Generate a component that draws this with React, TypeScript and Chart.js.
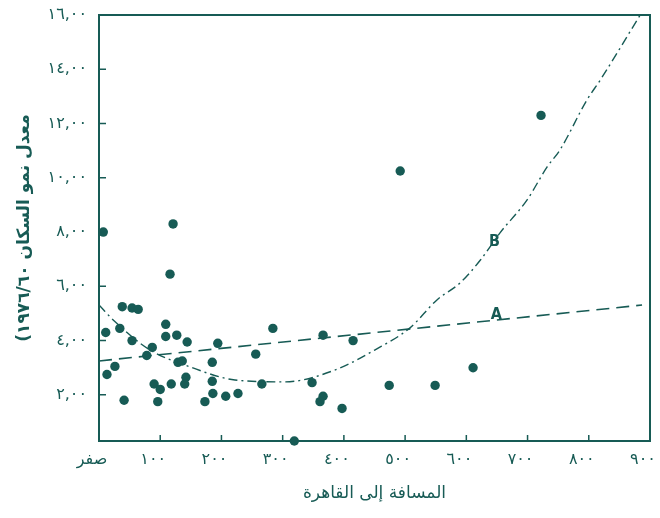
import React, { useEffect, useRef } from "react";
import { Chart, registerables } from "chart.js";

Chart.register(...registerables);

// Axis ticks
const xTickValues = [0, 100, 200, 300, 400, 500, 600, 700, 800, 900];
const xTickLabels = ["صفر", "١٠٠", "٢٠٠", "٣٠٠", "٤٠٠", "٥٠٠", "٦٠٠", "٧٠٠", "٨٠٠", "٩٠٠"];
const yTickValues = [2, 4, 6, 8, 10, 12, 14, 16];
const yTickLabels = ["٢,٠٠", "٤,٠٠", "٦,٠٠", "٨,٠٠", "١٠,٠٠", "١٢,٠٠", "١٤,٠٠", "١٦,٠٠"];

const xTitle = "المسافة إلى القاهرة";
const yTitle = "(معدل نمو السكان ١٩٧٦/٦٠";

// Towns: distance to Cairo (km) and population growth rate
const distance = [
  7, 121, 116, 38, 54, 64, 11, 34, 54, 109, 109, 127, 144, 87, 78, 194, 185, 284, 256, 366,
  415, 13, 26, 41, 90, 100, 118, 96, 129, 136, 142, 140, 185, 186, 173, 207, 227, 266, 348,
  366, 361, 397, 319, 474, 549, 611, 492, 722,
];
const growth = [
  8.0, 8.3, 6.45, 5.25, 5.2, 5.15, 4.3, 4.45, 4.0, 4.6, 4.15, 4.2, 3.95, 3.75, 3.45, 3.9, 3.2,
  4.45, 3.5, 4.2, 4.0, 2.75, 3.05, 1.8, 2.4, 2.2, 2.4, 1.75, 3.2, 3.25, 2.65, 2.4, 2.5, 2.05,
  1.75, 1.95, 2.05, 2.4, 2.45, 1.95, 1.75, 1.5, 0.3, 2.35, 2.35, 3.0, 10.25, 12.3,
];

// Trend A (linear)
const lineADistance = [0, 887];
const lineAGrowth = [3.25, 5.31];

// Trend B (curvilinear)
const lineBDistance = [0, 25, 83, 149, 222, 304, 386, 451, 508, 552, 590, 623, 655, 699, 732, 753, 797, 819, 884];
const lineBGrowth = [5.31, 4.72, 3.66, 3.03, 2.55, 2.48, 2.92, 3.66, 4.47, 5.5, 6.13, 6.97, 7.97, 9.18, 10.4, 11.03, 12.87, 13.61, 16.0];

// Curve tags
const curveTagText = ["A", "B"];
const curveTagDistance = [649, 646];
const curveTagGrowth = [4.95, 7.64];

const INK = "#175b55";
const ARABIC_FONT = "'DejaVu Sans', sans-serif";

const framePlugin = {
  id: "frameAndMarks",
  afterDraw(chart: any) {
    const { ctx, chartArea } = chart;
    const xs = chart.scales.x;
    const ys = chart.scales.y;
    ctx.save();
    ctx.strokeStyle = INK;
    ctx.lineWidth = 2;
    ctx.strokeRect(chartArea.left, chartArea.top, chartArea.right - chartArea.left, chartArea.bottom - chartArea.top);
    ctx.lineWidth = 1.5;
    ctx.beginPath();
    xTickValues.forEach((v) => {
      if (v === 0 || v === 900) return;
      const px = xs.getPixelForValue(v);
      ctx.moveTo(px, chartArea.bottom);
      ctx.lineTo(px, chartArea.bottom - 6);
    });
    yTickValues.forEach((v) => {
      if (v === 16) return;
      const py = ys.getPixelForValue(v);
      ctx.moveTo(chartArea.left, py);
      ctx.lineTo(chartArea.left + 7, py);
    });
    ctx.stroke();

    ctx.fillStyle = INK;
    ctx.font = "bold 16px 'DejaVu Sans Condensed', 'DejaVu Sans', sans-serif";
    ctx.textAlign = "center";
    ctx.textBaseline = "middle";
    curveTagText.forEach((t, i) => {
      const px = xs.getPixelForValue(curveTagDistance[i]);
      const py = ys.getPixelForValue(curveTagGrowth[i]);
      ctx.fillText(t, px, py);
    });
    ctx.restore();
  },
};

const whiteBg = {
  id: "whiteBg",
  beforeDraw(chart: any) {
    const { ctx, width, height } = chart;
    ctx.save();
    ctx.fillStyle = "#ffffff";
    ctx.fillRect(0, 0, width, height);
    ctx.restore();
  },
};

export default function App() {
  const canvasRef = useRef<HTMLCanvasElement | null>(null);

  useEffect(() => {
    if (!canvasRef.current) return;
    const chart = new Chart(canvasRef.current, {
      type: "scatter",
      data: {
        datasets: [
          {
            label: "towns",
            data: distance.map((d, i) => ({ x: d, y: growth[i] })),
            backgroundColor: INK,
            borderWidth: 0,
            pointRadius: 4.7,
            clip: false,
          } as any,
          {
            label: "A",
            data: lineADistance.map((d, i) => ({ x: d, y: lineAGrowth[i] })),
            showLine: true,
            pointRadius: 0,
            borderColor: INK,
            borderWidth: 1.6,
            borderDash: [13, 7],
          },
          {
            label: "B",
            data: lineBDistance.map((d, i) => ({ x: d, y: lineBGrowth[i] })),
            showLine: true,
            pointRadius: 0,
            borderColor: INK,
            borderWidth: 1.4,
            borderDash: [9, 4, 2, 4],
            cubicInterpolationMode: "monotone",
          },
        ],
      },
      options: {
        animation: false,
        responsive: false,
        devicePixelRatio: 1,
        layout: { padding: { left: 0, right: 10, top: 15, bottom: 0 } },
        plugins: { legend: { display: false }, tooltip: { enabled: false } },
        scales: {
          x: {
            type: "linear",
            min: 0,
            max: 900,
            grid: { display: false, drawTicks: false },
            border: { display: false },
            afterBuildTicks: (scale: any) => {
              scale.ticks = xTickValues.map((v) => ({ value: v }));
            },
            afterFit: (scale: any) => {
              scale.height = 77;
              scale.paddingLeft = 0;
              scale.paddingRight = 0;
            },
            ticks: {
              padding: 9,
              labelOffset: -7,
              maxRotation: 0,
              autoSkip: false,
              color: INK,
              font: { family: ARABIC_FONT, size: 16 },
              callback: (_v: any, i: number) => xTickLabels[i],
            },
            title: {
              display: true,
              text: xTitle,
              color: INK,
              font: { family: ARABIC_FONT, size: 17 },
              padding: { top: 0, bottom: 14 },
            },
          },
          y: {
            type: "linear",
            min: 0.3,
            max: 16,
            grid: { display: false, drawTicks: false },
            border: { display: false },
            afterBuildTicks: (scale: any) => {
              scale.ticks = yTickValues.map((v) => ({ value: v }));
            },
            afterFit: (scale: any) => {
              scale.width = 99;
              scale.paddingTop = 0;
              scale.paddingBottom = 0;
            },
            ticks: {
              padding: 12,
              autoSkip: false,
              color: INK,
              font: { family: ARABIC_FONT, size: 16 },
              callback: (_v: any, i: number) => yTickLabels[i],
            },
            title: {
              display: true,
              text: yTitle,
              color: INK,
              font: { family: ARABIC_FONT, size: 17, weight: "bold" },
              padding: { top: 14, bottom: 0 },
            },
          },
        },
      },
      plugins: [whiteBg, framePlugin],
    });
    return () => chart.destroy();
  }, []);

  return (
    <div style={{ position: "absolute", left: 0, top: 0, width: 660, height: 518 }}>
      <canvas ref={canvasRef} width={660} height={518} />
    </div>
  );
}
